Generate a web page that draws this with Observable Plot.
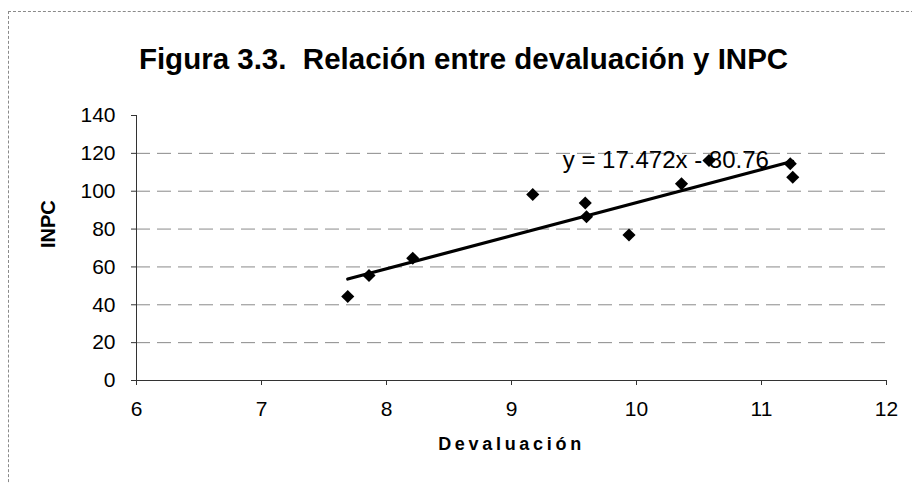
<!DOCTYPE html>
<html>
<head>
<meta charset="utf-8">
<script src="https://cdn.jsdelivr.net/npm/d3@7"></script>
<script src="https://cdn.jsdelivr.net/npm/@observablehq/plot@0.6"></script>
<style>
  html, body { margin: 0; padding: 0; background: #fff; }
  #wrap { position: relative; width: 912px; height: 484px; overflow: hidden; font-family: "Liberation Sans", Arial, sans-serif; }
  #border { position: absolute; left: 8px; top: 11px; width: 920px; height: 500px;
            border-top: 1px dashed #8a8a8a; border-left: 1px dashed #8a8a8a; }
  #chart { position: absolute; left: 0; top: 0; }
</style>
</head>
<body>
<div id="wrap"><div id="border"></div><div id="chart"></div></div>
<script>
// Data
const devaluacion = [7.69, 7.86, 8.21, 9.17, 9.59, 9.60, 9.94, 10.36, 10.58, 11.23, 11.25];
const inpc        = [44.4, 55.5, 64.6, 98.3, 93.8, 86.5, 76.9, 103.9, 116.2, 114.5, 107.4];
const xTicks = [6, 7, 8, 9, 10, 11, 12];
const yTicks = [0, 20, 40, 60, 80, 100, 120, 140];
const gridTicks = [20, 40, 60, 80, 100, 120];
const slope = 17.472;
const intercept = -80.76;
const equationText = "y = 17.472x - 80.76";
const equationAt = {x: 9.41, y: 116.2};
const titleText = "Figura 3.3.  Relación entre devaluación y INPC";
const xLabel = "Devaluación";
const yLabel = "INPC";

const points = devaluacion.map((d, i) => ({x: d, y: inpc[i]}));
const xr = d3.extent(devaluacion);
const trend = xr.map(x => ({x, y: slope * x + intercept}));

const font = "'Liberation Sans', Arial, sans-serif";

const chart = Plot.plot({
  width: 912,
  height: 484,
  marginLeft: 136,
  marginRight: 26,
  marginTop: 115,
  marginBottom: 104,
  style: {fontFamily: font, fontSize: "21px", color: "#000", background: "transparent"},
  x: {domain: [6, 12]},
  y: {domain: [0, 140]},
  marks: [
    Plot.ruleY(gridTicks, {stroke: "#8a8a8a", strokeDasharray: "14,7", strokeWidth: 1}),
    Plot.axisX({ticks: xTicks, tickFormat: d3.format("d"), tickSize: 5, tickPadding: 16, label: null, stroke: "#333", fontSize: 21}),
    Plot.axisY({ticks: yTicks, tickFormat: d3.format("d"), tickSize: 5, tickPadding: 16, label: null, stroke: "#333", fontSize: 21}),
    Plot.ruleX([6], {stroke: "#333", strokeWidth: 1}),
    Plot.ruleY([0], {stroke: "#333", strokeWidth: 1}),
    Plot.line(trend, {x: "x", y: "y", stroke: "#000", strokeWidth: 3.2}),
    Plot.dot(points, {x: "x", y: "y", symbol: "diamond2", r: 5.9, fill: "#000", stroke: "none"}),
    Plot.text([equationText], {x: equationAt.x, y: equationAt.y, textAnchor: "start", fontSize: 24, fill: "#000"}),
    Plot.text([titleText], {frameAnchor: "top", dx: -48, dy: -67, fontSize: 29.5, fontWeight: "bold", fill: "#000"}),
    Plot.text([yLabel], {frameAnchor: "left", dx: -88, rotate: -90, fontSize: 20, fontWeight: "bold", fill: "#000"}),
    Plot.text([xLabel], {frameAnchor: "bottom", dy: 69, fontSize: 18, fontWeight: "bold", fill: "#000"})
  ]
});

// enlarge axis tick labels (set directly on the text nodes)
const tickTexts = new Set(xTicks.concat(yTicks).map(String));
d3.select(chart).selectAll("g[aria-label*='axis'] text, g[aria-label*='tick label'] text")
  .style("font-size", "21px");
d3.select(chart).selectAll("text")
  .filter(function() { return tickTexts.has(this.textContent); })
  .style("font-size", "21px");

d3.select(chart).selectAll("text")
  .filter(function() { return this.textContent === xLabel; })
  .attr("letter-spacing", "3.7px");

document.getElementById("chart").appendChild(chart);
</script>
</body>
</html>
